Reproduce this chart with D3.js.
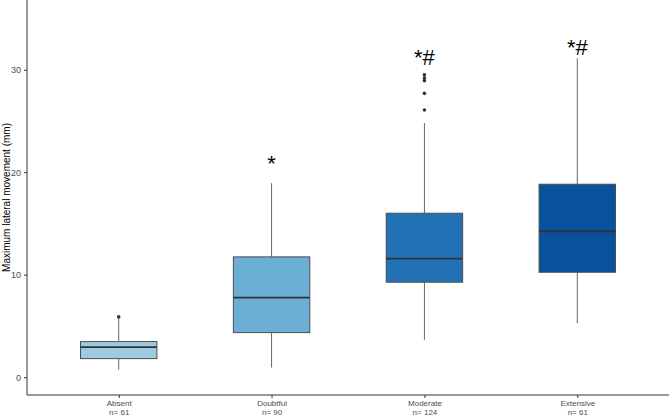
<!DOCTYPE html>
<html>
<head>
<meta charset="utf-8">
<script src="https://cdn.jsdelivr.net/npm/d3@7"></script>
<style>
  body { margin: 0; background: #fff; }
  svg { display: block; font-family: "Liberation Sans", Arial, sans-serif; }
</style>
</head>
<body>
<svg id="chart" width="669" height="416"></svg>
<script>
// categories and box statistics (mm)
const categories = ['Absent', 'Doubtful', 'Moderate', 'Extensive'];
const counts = [61, 90, 124, 61];
const whiskerLow = [0.74, 0.94, 3.64, 5.27];
const q1 = [1.81, 4.35, 9.27, 10.24];
const median = [2.93, 7.77, 11.57, 14.24];
const q3 = [3.47, 11.74, 16.0, 18.83];
const whiskerHigh = [5.74, 18.93, 24.8, 31.12];
const outliers = [[5.88], [], [26.08, 27.7, 28.94, 29.2, 29.5], []];
const marks = ['', '*', '*#', '*#'];
const markY = [0, 20.9, 31.15, 32.2];
const fills = ['#9ecae1', '#6baed6', '#2171b5', '#08519c'];
const yTicks = [0, 10, 20, 30];

const svg = d3.select('#chart');
const margin = { left: 27, right: 0, top: 0, bottom: 21 };
const width = 669, height = 416;
const plotBottom = height - margin.bottom;

// discrete x axis like ggplot: 0.6 unit padding on each side
const x = d3.scaleLinear()
    .domain([0.4, 4.6])
    .range([margin.left, width - margin.right]);
const y = d3.scaleLinear()
    .domain([-1.74, 36.81])
    .range([plotBottom, margin.top]);
const boxHalf = 0.25;

const boxes = categories.map((c, i) => ({
    name: c, i: i + 1, n: counts[i],
    lo: whiskerLow[i], q1: q1[i], med: median[i], q3: q3[i], hi: whiskerHigh[i],
    out: outliers[i], mark: marks[i], markY: markY[i], fill: fills[i],
}));

const g = svg.append('g');
const box = g.selectAll('.box').data(boxes).enter().append('g').attr('class', 'box');

// whiskers
box.append('line')
    .attr('x1', d => x(d.i)).attr('x2', d => x(d.i))
    .attr('y1', d => y(d.q3)).attr('y2', d => y(d.hi))
    .attr('stroke', '#666').attr('stroke-width', 1);
box.append('line')
    .attr('x1', d => x(d.i)).attr('x2', d => x(d.i))
    .attr('y1', d => y(d.q1)).attr('y2', d => y(d.lo))
    .attr('stroke', '#666').attr('stroke-width', 1);

// boxes
box.append('rect')
    .attr('x', d => x(d.i - boxHalf))
    .attr('width', d => x(d.i + boxHalf) - x(d.i - boxHalf))
    .attr('y', d => y(d.q3))
    .attr('height', d => y(d.q1) - y(d.q3))
    .attr('fill', d => d.fill)
    .attr('stroke', '#4d4d4d').attr('stroke-width', 1);
box.append('line')
    .attr('x1', d => x(d.i - boxHalf)).attr('x2', d => x(d.i + boxHalf))
    .attr('y1', d => y(d.med)).attr('y2', d => y(d.med))
    .attr('stroke', '#333').attr('stroke-width', 1.8);

// outliers
box.selectAll('circle').data(d => d.out.map(v => ({ i: d.i, v })))
    .enter().append('circle')
    .attr('cx', d => x(d.i)).attr('cy', d => y(d.v))
    .attr('r', 1.8).attr('fill', '#333');

// significance marks
box.filter(d => d.mark).append('text')
    .attr('x', d => x(d.i)).attr('y', d => y(d.markY))
    .attr('text-anchor', 'middle').attr('dominant-baseline', 'central')
    .attr('font-size', 22).attr('fill', '#000')
    .text(d => d.mark);

// y axis
const yAxis = g.append('g')
    .attr('transform', `translate(${margin.left},0)`)
    .call(d3.axisLeft(y).tickValues(yTicks).tickSize(3).tickPadding(3));
yAxis.select('.domain').attr('stroke', '#333').attr('d', `M0,${margin.top}V${plotBottom}`);
yAxis.selectAll('.tick line').attr('stroke', '#333');
yAxis.selectAll('.tick text').attr('fill', '#4d4d4d').attr('font-size', 9);

// x axis
const xAxis = g.append('g')
    .attr('transform', `translate(0,${plotBottom})`)
    .call(d3.axisBottom(x).tickValues([1, 2, 3, 4]).tickSize(3).tickFormat(''));
xAxis.select('.domain').attr('stroke', '#333').attr('d', `M${margin.left},0H${width}`);
xAxis.selectAll('.tick line').attr('stroke', '#333');
const xTick = xAxis.selectAll('.tick').data(boxes);
xTick.append('text')
    .attr('fill', '#4d4d4d').attr('font-size', 8).attr('text-anchor', 'middle')
    .attr('y', 11).text(d => d.name);
xTick.append('text')
    .attr('fill', '#4d4d4d').attr('font-size', 8).attr('text-anchor', 'middle')
    .attr('y', 20).text(d => 'n= ' + d.n);

// y axis title
svg.append('text')
    .attr('transform', `translate(10,${(margin.top + plotBottom) / 2}) rotate(-90)`)
    .attr('text-anchor', 'middle')
    .attr('font-size', 10).attr('fill', '#000')
    .text('Maximum lateral movement (mm)');
</script>
</body>
</html>
